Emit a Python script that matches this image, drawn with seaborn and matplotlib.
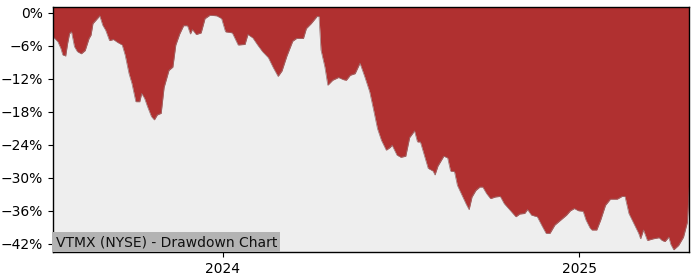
import matplotlib
matplotlib.use("Agg")
import matplotlib.pyplot as plt
import matplotlib.ticker as mticker
import pandas as pd
import seaborn as sns

title_text = "VTMX (NYSE) - Drawdown Chart"

dates = [
    "2023-07-11", "2023-07-16", "2023-07-19", "2023-07-21", "2023-07-24", "2023-07-26",
    "2023-07-28", "2023-07-30", "2023-08-02", "2023-08-05", "2023-08-09", "2023-08-13",
    "2023-08-17", "2023-08-19", "2023-08-21", "2023-08-24", "2023-08-28", "2023-08-31",
    "2023-09-03", "2023-09-07", "2023-09-11", "2023-09-15", "2023-09-20", "2023-09-23",
    "2023-09-27", "2023-09-30", "2023-10-04", "2023-10-08", "2023-10-10", "2023-10-13",
    "2023-10-16", "2023-10-20", "2023-10-23", "2023-10-26", "2023-10-30", "2023-11-02",
    "2023-11-07", "2023-11-11", "2023-11-14", "2023-11-18", "2023-11-22", "2023-11-26",
    "2023-11-29", "2023-12-01", "2023-12-05", "2023-12-10", "2023-12-14", "2023-12-19",
    "2023-12-26", "2023-12-31", "2024-01-04", "2024-01-11", "2024-01-17", "2024-01-24",
    "2024-01-27", "2024-02-01", "2024-02-06", "2024-02-11", "2024-02-17", "2024-02-22",
    "2024-02-27", "2024-03-02", "2024-03-07", "2024-03-13", "2024-03-17", "2024-03-24",
    "2024-03-27", "2024-04-01", "2024-04-07", "2024-04-09", "2024-04-11", "2024-04-15",
    "2024-04-18", "2024-04-23", "2024-04-29", "2024-05-04", "2024-05-07", "2024-05-11",
    "2024-05-16", "2024-05-21", "2024-05-26", "2024-05-31", "2024-06-04", "2024-06-08",
    "2024-06-12", "2024-06-17", "2024-06-21", "2024-06-23", "2024-06-28", "2024-07-02",
    "2024-07-07", "2024-07-11", "2024-07-16", "2024-07-19", "2024-07-22", "2024-07-26",
    "2024-07-30", "2024-08-04", "2024-08-06", "2024-08-09", "2024-08-15", "2024-08-19",
    "2024-08-22", "2024-08-26", "2024-08-29", "2024-09-02", "2024-09-07", "2024-09-10",
    "2024-09-13", "2024-09-17", "2024-09-21", "2024-09-24", "2024-09-28", "2024-10-02",
    "2024-10-07", "2024-10-12", "2024-10-16", "2024-10-22", "2024-10-28", "2024-11-01",
    "2024-11-06", "2024-11-09", "2024-11-13", "2024-11-19", "2024-11-24", "2024-11-28",
    "2024-12-02", "2024-12-07", "2024-12-13", "2024-12-19", "2024-12-23", "2024-12-27",
    "2024-12-31", "2025-01-05", "2025-01-08", "2025-01-12", "2025-01-14", "2025-01-19",
    "2025-01-23", "2025-01-28", "2025-02-02", "2025-02-09", "2025-02-14", "2025-02-17",
    "2025-02-21", "2025-02-26", "2025-03-03", "2025-03-05", "2025-03-08", "2025-03-12",
    "2025-03-18", "2025-03-24", "2025-03-27", "2025-03-30", "2025-04-03", "2025-04-05",
    "2025-04-08", "2025-04-13", "2025-04-18", "2025-04-22", "2025-04-24",
]

drawdown_pct = [
    -4.4, -5.3, -6.5, -7.7, -7.9, -5.6,
    -3.8, -3.5, -6.2, -7.1, -7.5, -6.9,
    -4.7, -4.1, -2.0, -1.4, -0.6, -2.3,
    -3.2, -5.1, -4.9, -5.4, -5.9, -7.7,
    -11.1, -12.9, -16.2, -16.2, -14.7, -15.6,
    -17.1, -18.9, -19.5, -18.6, -18.3, -13.6,
    -10.5, -9.9, -5.9, -3.9, -2.4, -2.4,
    -3.9, -3.1, -4.0, -3.7, -1.1, -0.5,
    -0.6, -1.1, -3.5, -3.7, -5.9, -5.8,
    -4.0, -4.6, -5.9, -7.1, -8.2, -10.0,
    -11.6, -10.6, -7.9, -5.2, -4.7, -4.7,
    -2.9, -2.0, -0.7, -0.7, -6.8, -9.9,
    -13.2, -12.3, -11.8, -12.2, -12.3, -11.4,
    -11.1, -9.2, -11.7, -14.4, -17.7, -21.1,
    -23.2, -25.0, -24.5, -24.1, -25.9, -26.3,
    -26.1, -22.7, -21.5, -23.5, -23.5, -25.9,
    -28.3, -28.8, -29.5, -27.9, -26.1, -26.4,
    -28.8, -28.9, -31.4, -32.9, -34.8, -35.8,
    -33.5, -32.3, -31.7, -31.7, -32.9, -33.8,
    -33.5, -33.4, -34.7, -35.9, -37.1, -36.6,
    -36.5, -35.8, -36.8, -37.1, -38.8, -40.1,
    -40.1, -38.6, -37.7, -36.8, -36.0, -35.6,
    -36.0, -36.1, -37.7, -39.1, -39.5, -39.5,
    -37.7, -35.0, -33.9, -33.9, -33.4, -33.4,
    -36.5, -38.3, -40.1, -41.1, -39.5, -41.4,
    -41.1, -40.9, -41.4, -41.6, -40.8, -42.1,
    -43.1, -42.3, -40.8, -38.1, -31.7,
]

y_ticks = [0, -6, -12, -18, -24, -30, -36, -42]
x_tick_labels = ["2024", "2025"]

df = pd.DataFrame({"date": pd.to_datetime(dates), "dd": drawdown_pct})

sns.set_style("ticks")
plt.rcParams["font.family"] = ["DejaVu Sans"]

fig = plt.figure(figsize=(7, 2.8), dpi=100)
ax = fig.add_axes([0.0757, 0.1, 0.909, 0.875])
ax.set_facecolor("#eeeeee")

ax.fill_between(df["date"], df["dd"], 5, color="#b03030", linewidth=0, zorder=1)
sns.lineplot(data=df, x="date", y="dd", ax=ax, color="#9a7070", linewidth=0.5, zorder=2)

ax.set_xlim(df["date"].iloc[0], df["date"].iloc[-1])
ax.set_ylim(-43.5, 1.0)
ax.set_yticks(y_ticks)
ax.yaxis.set_major_formatter(mticker.FuncFormatter(lambda v, p: f"{v:.0f}%".replace("-", "\u2212")))
ax.set_xticks(pd.to_datetime([f"{y}-01-01" for y in x_tick_labels]))
ax.set_xticklabels(x_tick_labels)
ax.set_xlabel("")
ax.set_ylabel("")
ax.tick_params(labelsize=10, colors="black", length=3.5)
for s in ax.spines.values():
    s.set_visible(True)
    s.set_color("black")
    s.set_linewidth(1.0)

ax.text(0.004, 0.012, title_text, transform=ax.transAxes, fontsize=10, color="#111111",
        ha="left", va="bottom", zorder=5,
        bbox=dict(facecolor="#b3b3b3", edgecolor="none", pad=2.2))

fig.savefig("out.png", dpi=100)
